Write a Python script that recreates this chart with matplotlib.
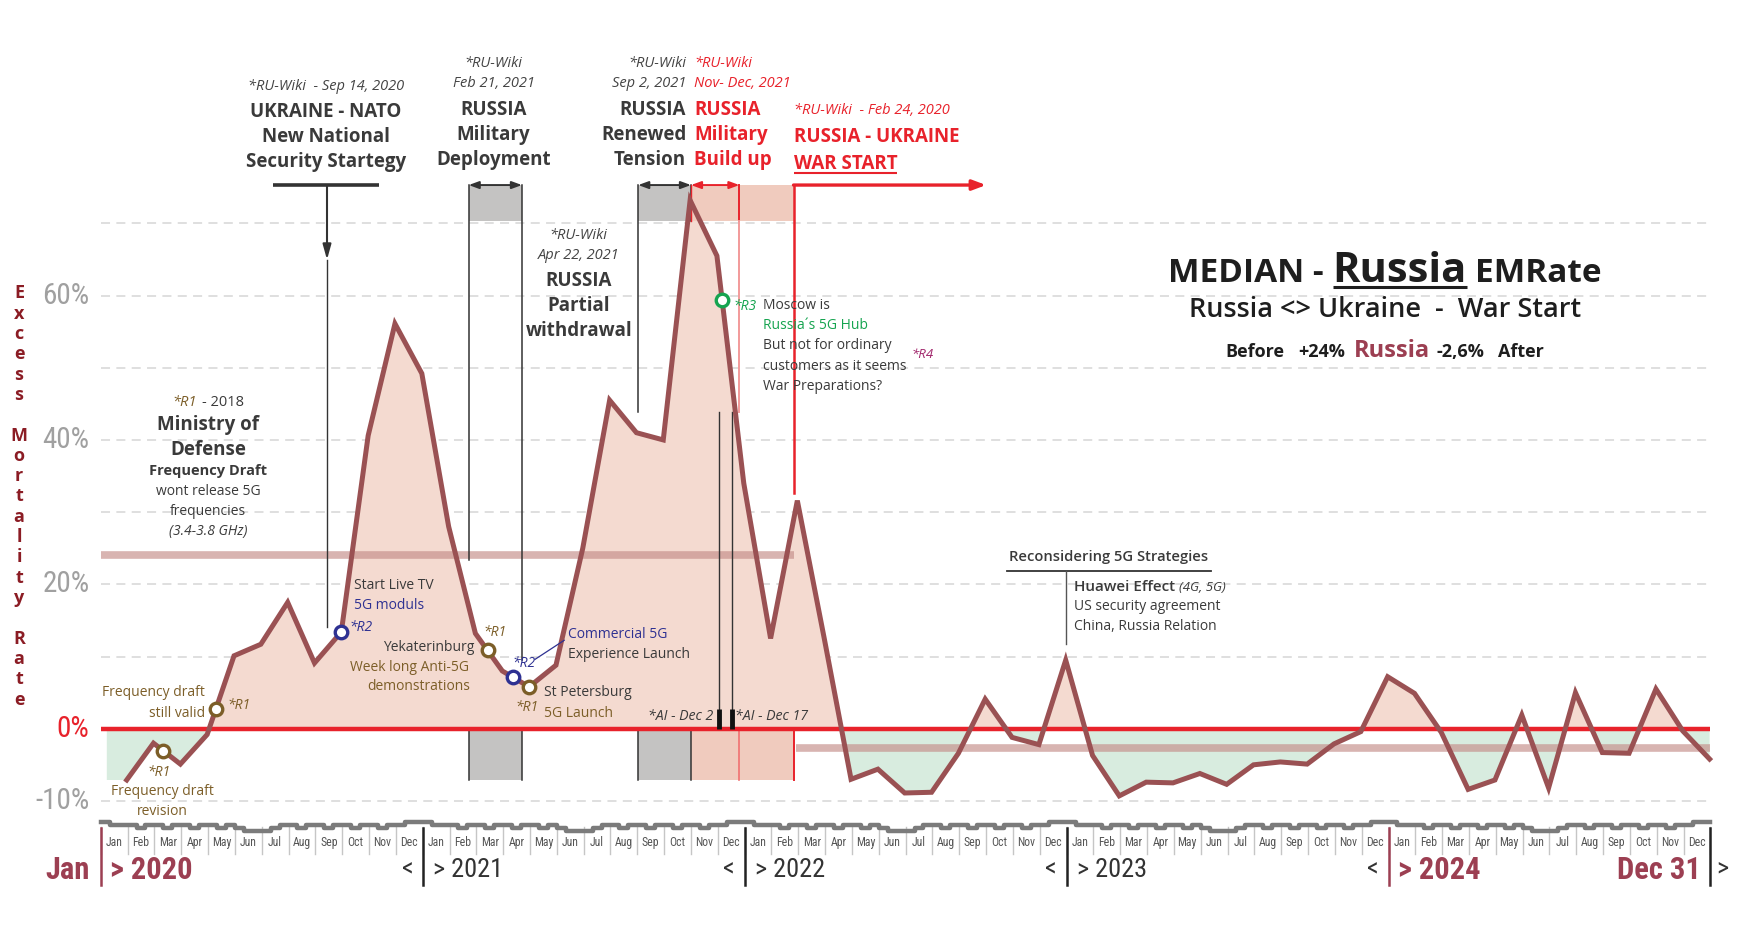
import matplotlib
matplotlib.use('Agg')
import matplotlib.pyplot as plt
import numpy as np
import pandas as pd
from matplotlib import font_manager as fm
from matplotlib.patches import Rectangle

# ---------------- data ----------------
month_names = ['Jan', 'Feb', 'Mar', 'Apr', 'May', 'Jun', 'Jul', 'Aug', 'Sep', 'Oct', 'Nov', 'Dec']
years = [2020, 2021, 2022, 2023, 2024]
# median excess mortality rate (%) at each month end, Jan 2020 .. Dec 2024
monthly_values = [
    -7.1, -2.0, -4.9, -0.8, 10.1, 11.7, 17.5, 9.1, 13.4, 40.6, 56.1, 49.2,
    28.0, 13.2, 8.0, 5.8, 8.8, 25.0, 45.5, 41.0, 40.0, 73.2, 65.5, 34.0,
    12.5, 31.6, 12.5, -7.0, -5.6, -8.9, -8.8, -3.4, 4.1, -1.2, -2.2, 9.5,
    -3.7, -9.3, -7.4, -7.5, -6.2, -7.7, -5.0, -4.6, -4.9, -2.1, -0.4, 7.2,
    4.9, -0.5, -8.4, -7.1, 1.9, -8.2, 5.0, -3.3, -3.4, 5.5, -0.3, -4.2]
before_avg = 24.0
after_avg = -2.6
y_tick_values = [60, 40, 20, 0, -10]
grid_levels = [-10, 10, 20, 30, 40, 50, 60, 70]

nato_date = '2020-09-14'
deployment = ('2021-02-21', '2021-04-22')
renewed = ('2021-09-02', '2021-11-01')
buildup = ('2021-11-01', '2021-12-26')
war_date = '2022-02-24'
war_arrow_end = '2022-10-01'
ai_dates = ['2021-12-02', '2021-12-17']
marker_dates = ['2020-03-11', '2020-05-10', '2020-09-30', '2021-03-14', '2021-04-12', '2021-04-30', '2021-12-06']
marker_refs = ['R1', 'R1', 'R2', 'R1', 'R2', 'R1', 'R3']
# decorative seasonal strip above month labels (depth per third of a month)
strip_profile = [0.5, 3, 3, 3, 5.5, 3, 3, 5.5, 3, 3, 5.5, 3, 3, 5.5, 3, 5.5, 8, 8,
                 8, 5.5, 3, 3, 5.5, 3, 3, 5.5, 3, 3, 5.5, 3, 3, 5.5, 3, 3, 0.5, 0.5]

# ---------------- fonts ----------------
available = {f.name for f in fm.fontManager.ttflist}
def pick(*names):
    for n in names:
        if n in available:
            return n
    return 'DejaVu Sans'
SANS = pick('Open Sans', 'Lato', 'Noto Sans', 'DejaVu Sans')
NARROW = pick('Liberation Sans Narrow', 'Roboto Condensed', 'Roboto', 'Liberation Sans')
HAS_NARROW = NARROW in ('Liberation Sans Narrow', 'Roboto Condensed')
plt.rcParams['font.family'] = [SANS, 'DejaVu Sans']
FAM = [SANS, 'DejaVu Sans']
NFAM = [NARROW, 'DejaVu Sans']

# ---------------- colours ----------------
DARK = '#3a3a3a'
RED = '#e8222b'
LINE = '#9a5153'
PINK = '#f4dad0'
GREEN = '#d8ecdf'
BOXG = '#c4c3c2'
BOXP = '#f0cbbe'
BROWN = '#7c5e28'
BLUE = '#2e3192'
GRN = '#16a450'
PURP = '#a0246a'
MAROON = '#9c3f52'
YLAB = '#8b1c24'
GRAYTXT = '#a0a0a0'
REF_COL = {'R1': BROWN, 'R2': BLUE, 'R3': GRN}

# ---------------- helpers ----------------
def pos(d):
    t = pd.Timestamp(d)
    return (t.year - 2020) * 12 + (t.month - 1) + (t.day - 1) / t.days_in_month

# layout frame (a slightly scaled reference pixel frame)
X0, MW = 90.0, 23.967
Y0, PW = 651.0, 6.45
FW, FH = 1560 * 1.005, 834.67 * 1.005
def X(px):
    return (px - X0) / MW
def Y(py):
    return (Y0 - py) / PW

fig = plt.figure(figsize=(17.55, 9.39), dpi=100)
ax = fig.add_axes([0, 0, 1, 1])
ax.set_xlim(X(0), X(FW))
ax.set_ylim(Y(FH), Y(0))
ax.axis('off')
renderer = fig.canvas.get_renderer()
inv = ax.transData.inverted()
S = 1.125

def T(xd, yd, s, size=10, color=DARK, ha='center', va='center', weight='normal',
      style='normal', family=None, z=8):
    return ax.text(X(xd), Y(yd), s, fontsize=size, color=color, ha=ha, va=va,
                   fontweight=weight, fontstyle=style, family=family or FAM, zorder=z)

def rich(xd, yd, pieces, ha='center', gaps=None):
    texts, widths = [], []
    for s, kw in pieces:
        kw = dict(kw)
        kw.setdefault('family', FAM)
        t = ax.text(0, 0, s, va='baseline', ha='left', zorder=8, **kw)
        texts.append(t)
        widths.append(t.get_window_extent(renderer).width)
    if gaps is None:
        gaps = [6] * (len(pieces) - 1)
    gpx = [g * S for g in gaps]
    total = sum(widths) + sum(gpx)
    px0, py0 = ax.transData.transform((X(xd), Y(yd)))
    start = px0 - total / 2 if ha == 'center' else (px0 - total if ha == 'right' else px0)
    cur = start
    for i, t in enumerate(texts):
        t.set_position(inv.transform((cur, py0)))
        cur += widths[i] + (gpx[i] if i < len(gpx) else 0)
    return texts

def underline(t, base_yd, off=4, lw=2, color=DARK):
    bb = t.get_window_extent(renderer)
    (x0, _) = inv.transform((bb.x0, bb.y0))
    (x1, _) = inv.transform((bb.x1, bb.y0))
    yy = Y(base_yd + off)
    ax.plot([x0, x1], [yy, yy], color=color, lw=lw, solid_capstyle='butt', zorder=8)

# ---------------- series geometry ----------------
month_ends = pd.date_range('2020-01-31', '2024-12-31', freq='ME')
xl = np.array([pos(d) for d in month_ends])
vals = np.array(monthly_values)
xnato = pos(nato_date)
xd0, xd1 = pos(deployment[0]), pos(deployment[1])
xr0, xr1 = pos(renewed[0]), pos(renewed[1])
xb0, xb1 = pos(buildup[0]), pos(buildup[1])
xwar = pos(war_date)
TOP, BOXB, LOW = 75.3, 70.3, -7.1

# grid
for g in grid_levels:
    ax.plot([0, 60], [g, g], color='#dcdcdc', lw=1.3, ls=(0, (5, 3.5)), zorder=0)

# fills
xf = np.r_[pos('2020-01-08'), xl]
yf = np.r_[vals[0], vals]
ax.fill_between(xf, 0, yf, where=yf >= 0, interpolate=True, color=PINK, lw=0, zorder=1)
ax.fill_between(xf, 0, yf, where=yf <= 0, interpolate=True, color=GREEN, lw=0, zorder=1)

# boxes (top and bottom)
for (a, b, c) in [(xd0, xd1, BOXG), (xr0, xr1, BOXG), (xb0, xwar, BOXP)]:
    ax.add_patch(Rectangle((a, BOXB), b - a, TOP - BOXB, color=c, lw=0, zorder=1))
    ax.add_patch(Rectangle((a, LOW), b - a, -LOW, color=c, lw=0, zorder=1))

# averages
ax.plot([0, xwar], [before_avg] * 2, color='#c48c88', alpha=0.65, lw=5.5,
        solid_capstyle='butt', zorder=2)
ax.plot([xwar + 0.1, 60], [after_avg] * 2, color='#c48c88', alpha=0.65, lw=5.5,
        solid_capstyle='butt', zorder=2)

# event lines
ax.plot([xd0, xd0], [TOP, Y(500)], color='#333', lw=1.1, zorder=3)
ax.plot([xd1, xd1], [TOP, Y(590)], color='#333', lw=1.1, zorder=3)
ax.plot([xr0, xr0], [TOP, Y(368)], color='#333', lw=1.1, zorder=3)
ax.plot([xr1, xr1], [TOP, BOXB], color='#333', lw=1.1, zorder=3)
for xx in (xd0, xd1, xr0, xr1):
    ax.plot([xx, xx], [0, LOW], color='#333', lw=1.1, zorder=3)
ax.plot([xb0, xb0], [TOP, BOXB], color=RED, lw=1.0, zorder=3)
ax.plot([xb1, xb1], [TOP, BOXB], color=RED, lw=1.4, zorder=3)
ax.plot([xb1, xb1], [BOXB, Y(368)], color='#f29a9a', lw=1.4, zorder=3)
ax.plot([xb1, xb1], [0, LOW], color='#f07070', lw=1.2, zorder=3)
ax.plot([xwar, xwar], [TOP, Y(440)], color=RED, lw=1.8, zorder=3)
ax.plot([xwar, xwar], [0, LOW], color=RED, lw=1.4, zorder=3)

# arrows at top
for (a, b, c) in [(xd0, xd1, '#333'), (xr0, xr1, '#333'), (xb0, xb1, RED)]:
    ax.annotate('', xy=(b, TOP), xytext=(a, TOP),
                arrowprops=dict(arrowstyle='<|-|>,head_length=0.6,head_width=0.22',
                                color=c, lw=1.4, shrinkA=0, shrinkB=0), zorder=4)
ax.annotate('', xy=(pos(war_arrow_end), TOP), xytext=(xwar, TOP),
            arrowprops=dict(arrowstyle='-|>,head_length=0.8,head_width=0.3',
                            color=RED, lw=2.4, shrinkA=0, shrinkB=0), zorder=4)
# NATO marker
ax.plot([xnato - 2.0, xnato + 1.95], [TOP, TOP], color='#333', lw=2.6, solid_capstyle='butt', zorder=4)
ax.annotate('', xy=(xnato, Y(232)), xytext=(xnato, TOP),
            arrowprops=dict(arrowstyle='-|>,head_length=0.9,head_width=0.25',
                            color='#333', lw=1.5, shrinkA=0, shrinkB=0), zorder=4)
ax.plot([xnato, xnato], [Y(232), Y(560)], color='#333', lw=1.0, zorder=3)

# AI markers
for d in ai_dates:
    xx = pos(d)
    ax.plot([xx, xx], [Y(368), 0], color='#333', lw=1.0, zorder=3)
    ax.plot([xx, xx], [0, 2.8], color='#111', lw=3.5, solid_capstyle='butt', zorder=6)

# zero line
ax.plot([0, 60], [0, 0], color=RED, lw=3.2, solid_capstyle='butt', zorder=4)

# main line
ax.plot(xl, vals, color=LINE, lw=3.6, zorder=5, solid_joinstyle='miter')

# reference markers
for d, r in zip(marker_dates, marker_refs):
    xx = pos(d)
    yy = np.interp(xx, xl, vals)
    ax.plot([xx], [yy], 'o', ms=9, mfc='white', mec=REF_COL[r], mew=2.4, zorder=7)

# ---------------- bottom time axis ----------------
xs = np.arange(0, 181) / 3.0
ys = [Y(734 + d) for d in (strip_profile * 5)]
ys.append(ys[-1])
ax.step(xs, ys, where='post', color='#7b7b7b', lw=3.2, zorder=3)
for k in range(61):
    ax.plot([k, k], [Y(739), Y(763)], color='#c6c6c6', lw=1.0, zorder=2)
msize = 8.5 if HAS_NARROW else 7
for k in range(60):
    ax.text(k + 0.5, Y(753), month_names[k % 12], ha='center', va='center',
            fontsize=msize, family=NFAM, color='#555555')
ysize = 19 if HAS_NARROW else 16
bsize = 22 if HAS_NARROW else 18.5
yl = Y(777)
for i, yr in enumerate(years):
    xb = 12 * i
    bar_col = MAROON if yr in (2020, 2024) else '#222222'
    ax.plot([xb, xb], [Y(740), Y(791)], color=bar_col, lw=1.8, zorder=3)
    if yr == 2020:
        ax.text(xb - 0.42, yl, 'Jan', ha='right', va='center', fontsize=bsize,
                fontweight='bold', family=NFAM, color=MAROON)
        ax.text(xb + 0.33, yl, '> 2020', ha='left', va='center', fontsize=bsize,
                fontweight='bold', family=NFAM, color=MAROON)
    elif yr == 2024:
        ax.text(xb - 0.35, yl, '<', ha='right', va='center', fontsize=ysize,
                family=NFAM, color='#333')
        ax.text(xb + 0.35, yl, '> 2024', ha='left', va='center', fontsize=bsize,
                fontweight='bold', family=NFAM, color=MAROON)
    else:
        ax.text(xb - 0.35, yl, '<', ha='right', va='center', fontsize=ysize,
                family=NFAM, color='#333')
        ax.text(xb + 0.38, yl, '> %d' % yr, ha='left', va='center', fontsize=ysize,
                family=NFAM, color='#333')
ax.plot([60, 60], [Y(740), Y(791)], color='#222222', lw=1.8, zorder=3)
ax.text(60 - 0.37, yl, 'Dec 31', ha='right', va='center', fontsize=bsize,
        fontweight='bold', family=NFAM, color=MAROON)
ax.text(60 + 0.2, yl, '>', ha='left', va='center', fontsize=ysize, family=NFAM, color='#333')

# y tick labels
tsize = 21 if HAS_NARROW else 17
for v in y_tick_values:
    ax.text(X(80), v, '%d%%' % v, ha='right', va='center', fontsize=tsize,
            family=NFAM, color=RED if v == 0 else GRAYTXT)

# y label (stacked letters)
label = 'Excess Mortality Rate'
for i, ch in enumerate(label):
    if ch != ' ':
        T(17, 262 + i * 18.15, ch, size=13, color=YLAB, weight='bold')

# ---------------- annotations ----------------
H, SRC, BODY = 13.5, 10.5, 10

# NATO
T(291, 77, '*RU-Wiki  - Sep 14, 2020', size=SRC, style='italic', color='#444')
T(291, 100, 'UKRAINE - NATO', size=H, weight='bold')
T(291, 122, 'New National', size=H, weight='bold')
T(291, 145, 'Security Startegy', size=H, weight='bold')

# Deployment
T(441, 57, '*RU-Wiki', size=SRC, style='italic', color='#444')
T(441, 75, 'Feb 21, 2021', size=SRC, style='italic', color='#444')
T(441, 98, 'RUSSIA', size=H, weight='bold')
T(441, 121, 'Military', size=H, weight='bold')
T(441, 143, 'Deployment', size=H, weight='bold')

# Withdrawal
T(517, 210, '*RU-Wiki', size=SRC, style='italic', color='#444')
T(517, 228, 'Apr 22, 2021', size=SRC, style='italic', color='#444')
T(517, 251, 'RUSSIA', size=H, weight='bold')
T(517, 273, 'Partial', size=H, weight='bold')
T(517, 296, 'withdrawal', size=H, weight='bold')

# Renewed tension
T(613, 57, '*RU-Wiki', size=SRC, style='italic', color='#444', ha='right')
T(613, 75, 'Sep 2, 2021', size=SRC, style='italic', color='#444', ha='right')
T(613, 98, 'RUSSIA', size=H, weight='bold', ha='right')
T(613, 121, 'Renewed', size=H, weight='bold', ha='right')
T(613, 143, 'Tension', size=H, weight='bold', ha='right')

# Build up
T(620, 57, '*RU-Wiki', size=SRC, style='italic', color=RED, ha='left')
T(620, 75, 'Nov- Dec, 2021', size=SRC, style='italic', color=RED, ha='left')
T(620, 98, 'RUSSIA', size=H, weight='bold', color=RED, ha='left')
T(620, 121, 'Military', size=H, weight='bold', color=RED, ha='left')
T(620, 143, 'Build up', size=H, weight='bold', color=RED, ha='left')

# War start
T(709, 99, '*RU-Wiki  - Feb 24, 2020', size=SRC, style='italic', color=RED, ha='left')
T(709, 122, 'RUSSIA - UKRAINE', size=H, weight='bold', color=RED, ha='left')
tw = rich(709, 151, [('WAR START', dict(fontsize=H, fontweight='bold', color=RED))], ha='left')
underline(tw[0], 151, off=3.5, lw=1.5, color=RED)

# Ministry of defense
rich(186, 363, [('*R1', dict(fontsize=SRC, color=BROWN, fontstyle='italic')),
                ('- 2018', dict(fontsize=SRC, color=DARK))], gaps=[4])
T(186, 380, 'Ministry of', size=H, weight='bold')
T(186, 402, 'Defense', size=H, weight='bold')
T(186, 421, 'Frequency Draft', size=10.5, weight='bold')
T(186, 439, 'wont release 5G', size=BODY)
T(186, 457, 'frequencies', size=BODY)
T(186, 475, '(3.4-3.8 GHz)', size=BODY, style='italic')

# Frequency draft notes
T(183, 619, 'Frequency draft', size=BODY, color=BROWN, ha='right')
T(183, 637, 'still valid', size=BODY, color=BROWN, ha='right')
T(203, 630, '*R1', size=BODY, color=BROWN, style='italic', ha='left')
T(142, 690, '*R1', size=BODY, color=BROWN, style='italic')
T(145, 707, 'Frequency draft', size=BODY, color=BROWN)
T(145, 725, 'revision', size=BODY, color=BROWN)

# Start live TV
T(316, 523, 'Start Live TV', size=BODY, ha='left')
T(316, 541, '5G moduls', size=BODY, color=BLUE, ha='left')
T(312, 561, '*R2', size=BODY, color=BLUE, style='italic', ha='left')

# Yekaterinburg
T(442, 565, '*R1', size=BODY, color=BROWN, style='italic')
T(424, 578, 'Yekaterinburg', size=BODY, ha='right')
T(366, 596, 'Week long Anti-5G', size=BODY, color=BROWN)
T(374, 613, 'demonstrations', size=BODY, color=BROWN)

# Commercial 5G
T(468, 593, '*R2', size=BODY, color=BLUE, style='italic')
ax.plot([X(478), X(504)], [Y(589), Y(572)], color=BLUE, lw=0.9, zorder=8)
T(507, 567, 'Commercial 5G', size=BODY, color=BLUE, ha='left')
T(507, 585, 'Experience Launch', size=BODY, ha='left')

# St Petersburg
T(486, 619, 'St Petersburg', size=BODY, ha='left')
T(486, 637, '5G Launch', size=BODY, color=BROWN, ha='left')
T(471, 632, '*R1', size=BODY, color=BROWN, style='italic')

# AI
T(637, 640, '*AI - Dec 2', size=10.2, style='italic', ha='right')
T(657, 640, '*AI - Dec 17', size=10.2, style='italic', ha='left')

# Moscow
T(655, 274, '*R3', size=BODY, color=GRN, style='italic', ha='left')
T(682, 273, 'Moscow is', size=BODY, ha='left')
T(682, 291, 'Russia\u00b4s 5G Hub', size=BODY, color=GRN, ha='left')
T(682, 309, 'But not for ordinary', size=BODY, ha='left')
T(682, 327, 'customers as it seems', size=BODY, ha='left')
T(682, 345, 'War Preparations?', size=BODY, ha='left')
T(814, 317, '*R4', size=9.5, color=PURP, style='italic', ha='left')

# Reconsidering 5G
T(901, 498, 'Reconsidering 5G Strategies', size=10.6, weight='semibold', ha='left')
ax.plot([X(900), X(1082)], [Y(510), Y(510)], color='#333', lw=1.3, zorder=8)
ax.plot([X(952), X(952)], [Y(510), Y(575)], color='#555', lw=1.0, zorder=8)
rich(959, 528, [('Huawei Effect', dict(fontsize=11, color=DARK, fontweight='semibold')),
                ('(4G, 5G)', dict(fontsize=9.5, color=DARK, fontstyle='italic'))],
     ha='left', gaps=[4])
T(959, 542, 'US security agreement', size=BODY, ha='left')
T(959, 560, 'China, Russia Relation', size=BODY, ha='left')

# Title block
tt = rich(1237, 252, [('MEDIAN -', dict(fontsize=24, fontweight='bold', color='#1e1e1e')),
                      ('Russia', dict(fontsize=30, fontweight='bold', color='#1e1e1e')),
                      ('EMRate', dict(fontsize=24, fontweight='bold', color='#1e1e1e'))],
          gaps=[8, 7])
underline(tt[1], 252, off=4, lw=2.2, color='#1e1e1e')
T(1237, 277, 'Russia <> Ukraine  -  War Start', size=19.5, weight='semibold', color='#1e1e1e')
rich(1237, 319, [('Before', dict(fontsize=13, fontweight='bold', color='#1e1e1e')),
                 ('+24%', dict(fontsize=13, fontweight='bold', color='#1e1e1e')),
                 ('Russia', dict(fontsize=17, fontweight='bold', color=MAROON)),
                 ('-2,6%', dict(fontsize=13, fontweight='bold', color='#1e1e1e')),
                 ('After', dict(fontsize=13, fontweight='bold', color='#1e1e1e'))],
     gaps=[12, 8, 6, 12])

fig.savefig('out.png', dpi=100)
